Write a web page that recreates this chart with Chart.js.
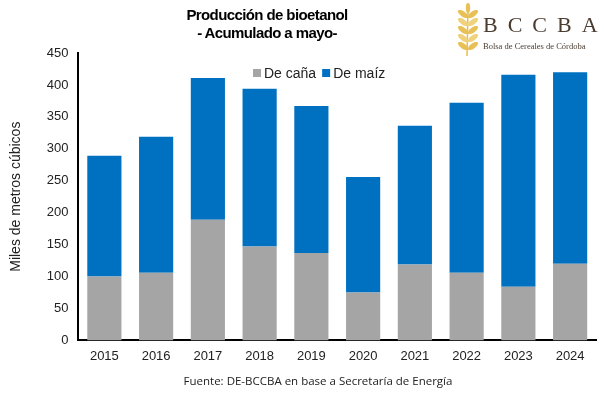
<!doctype html>
<html lang="es">
<head>
<meta charset="utf-8">
<title>Producción de bioetanol</title>
<script src="https://cdn.jsdelivr.net/npm/chart.js@4.4.1/dist/chart.umd.min.js"></script>
<style>
  html, body { margin: 0; padding: 0; background: #fff; }
  #wrap { position: relative; width: 616px; height: 393px; overflow: hidden; }
  #chartBox { position: absolute; left: 0; top: 0; width: 616px; height: 393px; }
  .title { position: absolute; left: 167px; width: 200px; text-align: center; font-family: "Liberation Sans", Arial, sans-serif;
           font-weight: bold; font-size: 15px; letter-spacing: -0.6px; color: #000; line-height: 18px; }
  .logo1 { position: absolute; left: 483px; top: 12px; font-family: "Liberation Serif", serif; font-size: 22px;
           letter-spacing: 10px; color: #4b3c30; line-height: 26px; }
  .logo2 { position: absolute; left: 483px; top: 41px; font-family: "Liberation Serif", serif; font-size: 8.5px;
           color: #4b3c30; line-height: 10px; white-space: nowrap; }
  .source { position: absolute; left: 118px; width: 400px; top: 373px; text-align: center; font-family: "Open Sans", sans-serif;
            font-size: 11.5px; color: #222; line-height: 16px; }
</style>
</head>
<body>
<div id="wrap">
  <div id="chartBox"><canvas id="myChart"></canvas></div>
  <div class="title" style="top:6px">Producción de bioetanol</div>
  <div class="title" style="top:24px">- Acumulado a mayo-</div>
  <div class="logo1">BCCBA</div>
  <div class="logo2">Bolsa de Cereales de Córdoba</div>
  <div class="source">Fuente: DE-BCCBA en base a Secretaría de Energía</div>
</div>
<script>
  // años
  const years = ['2015', '2016', '2017', '2018', '2019', '2020', '2021', '2022', '2023', '2024'];
  // miles de m3
  const cana = [100, 106, 189, 147, 137, 75, 119, 106, 84, 120];
  const maiz = [189, 213, 222, 247, 230, 181, 217, 266, 332, 300];
  const seriesNames = ['De caña', 'De maíz'];
  const seriesColors = ['#a5a5a5', '#0070c0'];

  // leyenda dibujada dentro del área del gráfico
  const legendInside = {
    id: 'legendInside',
    afterDraw(chart) {
      const ctx = chart.ctx;
      ctx.save();
      ctx.font = '14px "Liberation Sans", Arial, sans-serif';
      ctx.textBaseline = 'middle';
      let x = 253;
      const y = 73;
      chart.data.datasets.forEach(ds => {
        ctx.fillStyle = ds.backgroundColor;
        ctx.fillRect(x, y - 4, 8, 8);
        ctx.fillStyle = '#222';
        ctx.fillText(ds.label, x + 11, y + 1);
        x += 11 + ctx.measureText(ds.label).width + 6;
      });
      ctx.restore();
    }
  };

  // espiga del logo
  const wheat = {
    id: 'wheat',
    afterDraw(chart) {
      const ctx = chart.ctx;
      ctx.save();
      ctx.strokeStyle = '#e6bd4e';
      ctx.lineWidth = 1.5;
      ctx.beginPath();
      ctx.moveTo(468, 8);
      ctx.lineTo(467, 56);
      ctx.stroke();
      for (let i = 0; i < 5; i++) {
        const cy = 14 + i * 8;
        ctx.fillStyle = i % 2 ? '#f1d27c' : '#e8c056';
        ctx.beginPath();
        ctx.ellipse(463, cy, 6, 2.6, 0.6, 0, Math.PI * 2);
        ctx.fill();
        ctx.beginPath();
        ctx.ellipse(473, cy, 6, 2.6, -0.6, 0, Math.PI * 2);
        ctx.fill();
      }
      ctx.fillStyle = '#e8c056';
      ctx.beginPath();
      ctx.ellipse(468, 8, 2.2, 5, 0, 0, Math.PI * 2);
      ctx.fill();
      ctx.restore();
    }
  };

  const init = () => {
    const ctx = document.getElementById('myChart');
    new Chart(ctx, {
      type: 'bar',
      data: {
        labels: years,
        datasets: [
          { label: seriesNames[0], data: cana, backgroundColor: seriesColors[0] },
          { label: seriesNames[1], data: maiz, backgroundColor: seriesColors[1] }
        ]
      },
      options: {
        responsive: true,
        maintainAspectRatio: false,
        animation: false,
        barPercentage: 0.66,
        categoryPercentage: 1,
        layout: { padding: { top: 53, right: 20, bottom: 21, left: 8 } },
        plugins: {
          legend: { display: false },
          title: { display: false },
          tooltip: { enabled: false }
        },
        scales: {
          x: {
            stacked: true,
            grid: { display: false, drawTicks: false },
            border: { display: true, color: '#000', width: 2 },
            ticks: { color: '#222', font: { family: '"Liberation Sans", Arial, sans-serif', size: 13 }, padding: 8 }
          },
          y: {
            stacked: true,
            min: 0,
            max: 450,
            grid: { display: false, drawTicks: false },
            border: { display: true, color: '#000', width: 2 },
            ticks: { stepSize: 50, color: '#222', font: { family: '"Liberation Sans", Arial, sans-serif', size: 13 }, padding: 10 },
            title: { display: true, text: 'Miles de metros cúbicos', color: '#222',
                     font: { family: '"Liberation Sans", Arial, sans-serif', size: 14 }, padding: { top: 0, bottom: 12 } }
          }
        }
      },
      plugins: [legendInside, wheat]
    });
  };
  window.onload = init;
</script>
</body>
</html>
